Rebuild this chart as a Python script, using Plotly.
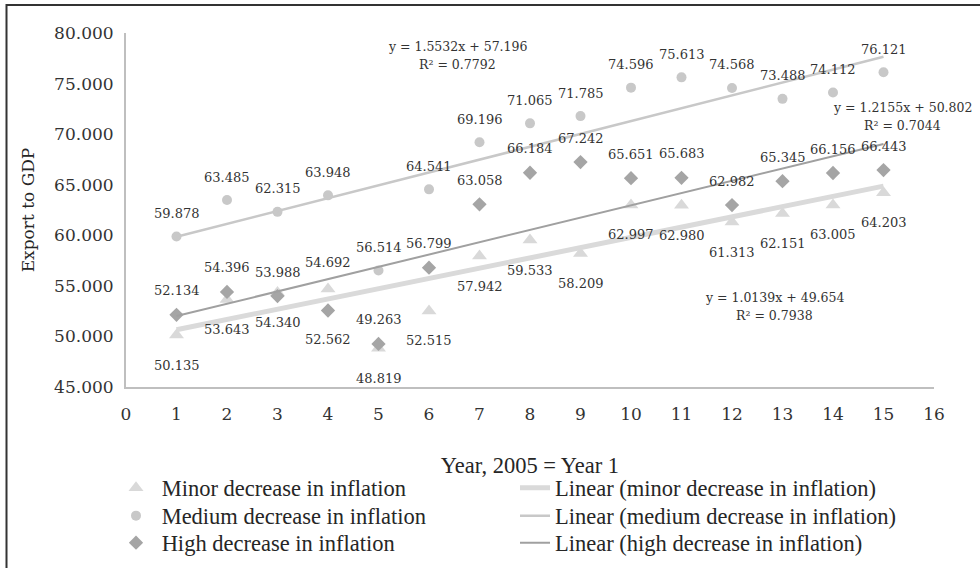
import numpy as np
import plotly.graph_objects as go

# ---- data ----
years = list(range(1, 16))
minor = [50.135, 53.643, 54.340, 54.692, 48.819, 52.515, 57.942, 59.533, 58.209,
         62.997, 62.980, 61.313, 62.151, 63.005, 64.203]
medium = [59.878, 63.485, 62.315, 63.948, 56.514, 64.541, 69.196, 71.065, 71.785,
          74.596, 75.613, 74.568, 73.488, 74.112, 76.121]
high = [52.134, 54.396, 53.988, 52.562, 49.263, 56.799, 63.058, 66.184, 67.242,
        65.651, 65.683, 62.982, 65.345, 66.156, 66.443]

# label placement: +1 above marker, -1 below
minor_pos = [-1, -1, -1, 1, -1, -1, -1, -1, -1, -1, -1, -1, -1, -1, -1]
medium_pos = [1] * 15
high_pos = [1, 1, 1, -1, 1, 1, 1, 1, 1, 1, 1, 1, 1, 1, 1]

names = ["Minor decrease in inflation", "Medium decrease in inflation", "High decrease in inflation"]
trend_names = ["Linear (minor decrease in inflation)", "Linear (medium decrease in inflation)",
               "Linear (high decrease in inflation)"]
eq_lines = [("y = 1.0139x + 49.654", "R² = 0.7938"),
            ("y = 1.5532x + 57.196", "R² = 0.7792"),
            ("y = 1.2155x + 50.802", "R² = 0.7044")]
# equation label anchor (x, y) in data units
eq_anchor = [(12.85, 53.0), (6.57, 77.8), (15.37, 71.7)]

marker_colors = ["#d9d9d9", "#c8c8c8", "#a5a5a5"]
line_colors = ["#dadada", "#c8c8c8", "#a0a0a0"]
line_widths = [5, 2.5, 2]
symbols = ["triangle-up", "circle", "diamond"]
sizes = [13, 10, 11]

series = [minor, medium, high]
positions = [minor_pos, medium_pos, high_pos]

# plot-area pixel geometry (for placing the legends below it)
L, R, T, B = 126, 934, 33, 387
def px_x(p):
    return (p - L) / (R - L)
def px_y(p):
    return (B - p) / (B - T)

row_y = [488, 516, 543]

fig = go.Figure()
fit_x = np.array([years[0], years[-1]])
for i, ys in enumerate(series):
    fig.add_trace(go.Scatter(
        x=years, y=ys, mode="markers", name="\u00a0" + names[i],
        marker=dict(symbol=symbols[i], size=sizes[i], color=marker_colors[i]),
        legend="legend" if i == 0 else f"legend{i + 1}"))
for i, ys in enumerate(series):
    slope, intercept = np.polyfit(years, ys, 1)
    fig.add_trace(go.Scatter(
        x=fit_x, y=slope * fit_x + intercept, mode="lines", name=trend_names[i],
        line=dict(color=line_colors[i], width=line_widths[i]),
        legend=f"legend{i + 4}"))

label_font = dict(family="DejaVu Serif", size=13, color="#333333")
offsets = [(-30, 26), (0, 23), (-29, 24)]  # (below, above) per series
for i, ys in enumerate(series):
    for x, y, p in zip(years, ys, positions[i]):
        fig.add_annotation(x=x, y=y, text=f"{y:.3f}", showarrow=False,
                           yshift=offsets[i][1] if p > 0 else offsets[i][0],
                           font=label_font)

eq_font = dict(family="DejaVu Serif", size=12.5, color="#333333")
for (l1, l2), (ex, ey) in zip(eq_lines, eq_anchor):
    fig.add_annotation(x=ex, y=ey, text=l1, showarrow=False, yshift=9, font=eq_font)
    fig.add_annotation(x=ex, y=ey, text=l2, showarrow=False, yshift=-9, font=eq_font)

# outer frame (only its left and top edges fall inside the figure)
fig.add_shape(type="rect", xref="paper", yref="paper", x0=px_x(6.5), x1=px_x(1000),
              y0=px_y(600), y1=px_y(5), line=dict(color="#333333", width=2),
              fillcolor="rgba(0,0,0,0)", layer="above")

legend_font = dict(family="Liberation Serif", size=22.5, color="#262626")
legends = {}
for k in range(6):
    key = "legend" if k == 0 else f"legend{k + 1}"
    left = 116 if k < 3 else 515
    legends[key] = dict(x=px_x(left), y=px_y(row_y[k % 3]), xanchor="left", yanchor="middle",
                        font=legend_font, bgcolor="rgba(0,0,0,0)", borderwidth=0)

fig.update_layout(
    width=980, height=568,
    margin=dict(l=L, r=980 - R, t=T, b=568 - B, autoexpand=False),
    plot_bgcolor="white", paper_bgcolor="white",
    showlegend=True,
    **legends,
    xaxis=dict(range=[0, 16], dtick=1, tick0=0, showgrid=False, zeroline=False,
               showline=True, linecolor="#bfbfbf", linewidth=2, ticks="",
               ticklabelstandoff=11,
               tickfont=dict(family="DejaVu Serif", size=17, color="#333333"),
               title=dict(text="Year, 2005 = Year 1", standoff=34,
                          font=dict(family="Liberation Serif", size=22.5, color="#262626"))),
    yaxis=dict(range=[45, 80], dtick=5, tick0=45, tickformat=".3f", showgrid=False,
               zeroline=False, showline=True, linecolor="#bfbfbf", linewidth=2, ticks="",
               ticklabelstandoff=7,
               tickfont=dict(family="DejaVu Serif", size=17, color="#333333"),
               title=dict(text="Export to GDP", standoff=15,
                          font=dict(family="DejaVu Serif", size=17, color="#262626"))),
)

fig.write_html("out.html", config={"displayModeBar": False},
               post_script="document.body.style.margin='0';document.body.style.overflow='hidden';")
